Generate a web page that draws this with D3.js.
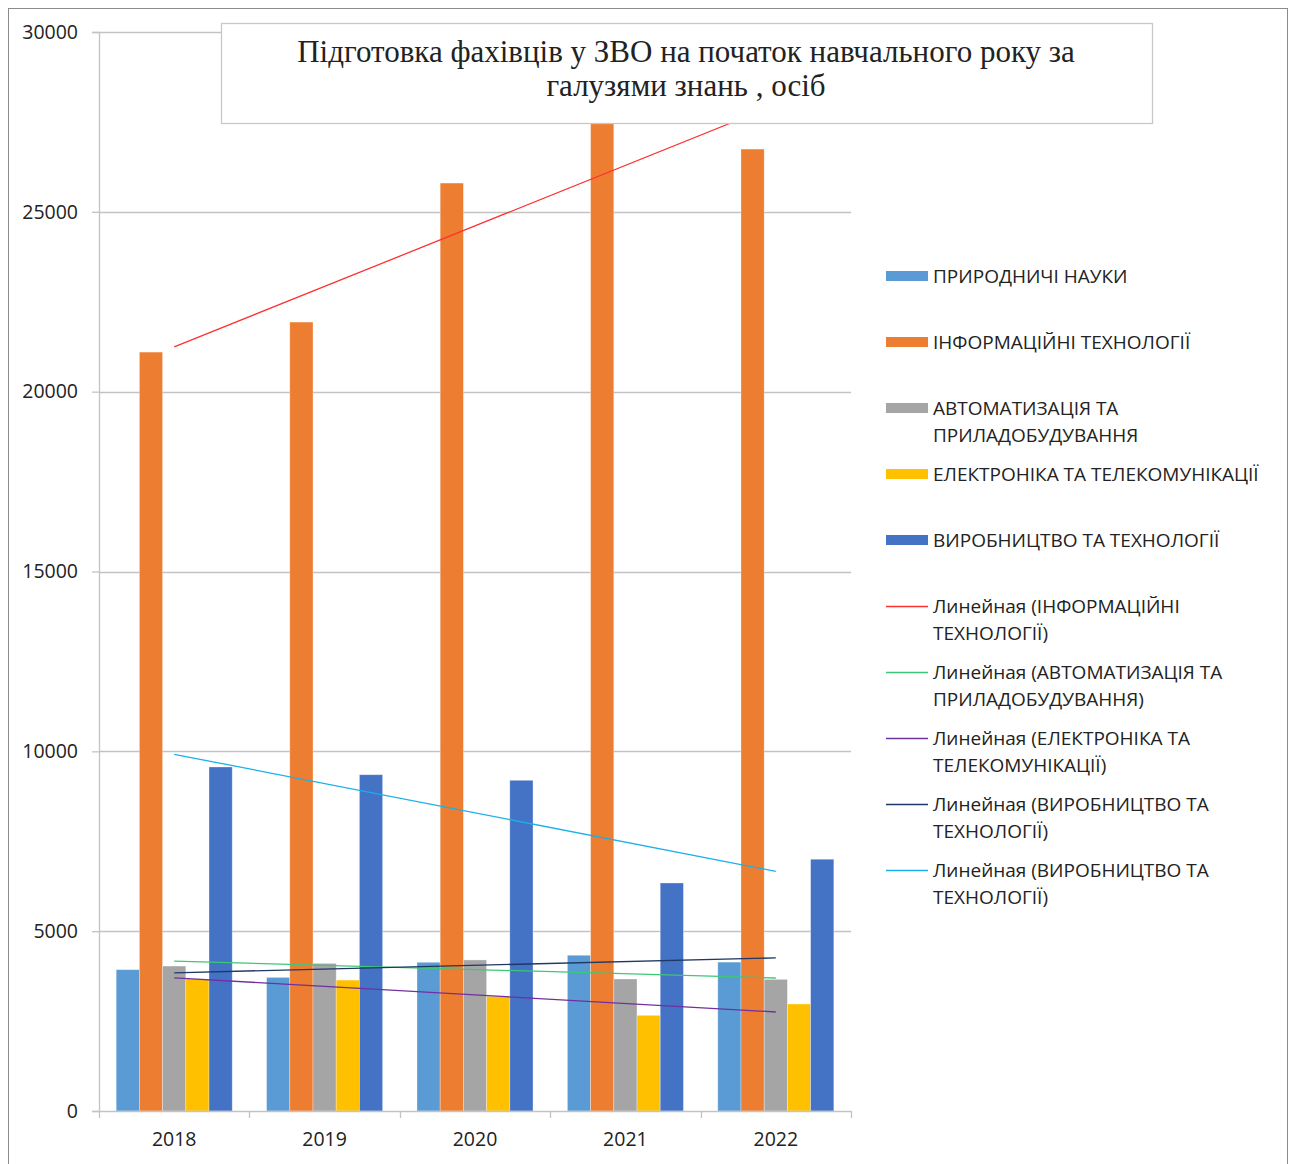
<!DOCTYPE html>
<html>
<head>
<meta charset="utf-8">
<script src="https://cdn.jsdelivr.net/npm/d3@7"></script>
<style>
  body { margin: 0; background: #fff; }
  svg text { font-family: "Open Sans", "Noto Sans", sans-serif; fill: #222; }
</style>
</head>
<body>
<svg id="chart"></svg>
<script>
const years = ['2018', '2019', '2020', '2021', '2022'];
const seriesNames = [
  'ПРИРОДНИЧІ НАУКИ',
  'ІНФОРМАЦІЙНІ ТЕХНОЛОГІЇ',
  'АВТОМАТИЗАЦІЯ ТА ПРИЛАДОБУДУВАННЯ',
  'ЕЛЕКТРОНІКА ТА ТЕЛЕКОМУНІКАЦІЇ',
  'ВИРОБНИЦТВО ТА ТЕХНОЛОГІЇ'
];
const naturalSci = [3930, 3715, 4135, 4330, 4140];
const itTech = [21100, 21935, 25800, 27465, 26745];
const automation = [4030, 4105, 4200, 3670, 3660];
const electronics = [3670, 3640, 3190, 2660, 2975];
const production = [9565, 9350, 9195, 6340, 7000];
const yTicks = [0, 5000, 10000, 15000, 20000, 25000, 30000];

// trendlines: which series each fit is taken from, and its legend label
const trendSource = [1, 2, 3, 0, 4];
const trendNames = [
  'Линейная (ІНФОРМАЦІЙНІ ТЕХНОЛОГІЇ)',
  'Линейная (АВТОМАТИЗАЦІЯ ТА ПРИЛАДОБУДУВАННЯ)',
  'Линейная (ЕЛЕКТРОНІКА ТА ТЕЛЕКОМУНІКАЦІЇ)',
  'Линейная (ВИРОБНИЦТВО ТА ТЕХНОЛОГІЇ)',
  'Линейная (ВИРОБНИЦТВО ТА ТЕХНОЛОГІЇ)'
];

const series = [naturalSci, itTech, automation, electronics, production];
const barColors = ['#5b9bd5', '#ed7d31', '#a5a5a5', '#ffc000', '#4472c4'];
const trendColors = ['#ff3030', '#3cc878', '#7030a0', '#1f3864', '#1ab0ea'];

const width = 1292;
const height = 1164;
const margin = {left: 99, right: 441, top: 32, bottom: 53};

const svg = d3.select('#chart')
  .attr('width', width)
  .attr('height', height);

// outer chart frame
svg.append('rect')
  .attr('x', 8.5).attr('y', 8.5)
  .attr('width', 1279).attr('height', 1170)
  .attr('fill', 'none')
  .attr('stroke', '#8c8c8c');

const x0 = d3.scaleBand()
  .domain(years)
  .range([margin.left, width - margin.right]);

const x1 = d3.scaleBand()
  .domain(d3.range(series.length))
  .range([0, x0.bandwidth()])
  .paddingOuter(0.74);

const y = d3.scaleLinear()
  .domain([0, 30000])
  .range([height - margin.bottom, margin.top]);

// gridlines
svg.append('g')
  .selectAll('line')
  .data(yTicks.slice(1))
  .join('line')
  .attr('x1', margin.left)
  .attr('x2', width - margin.right)
  .attr('y1', (d) => Math.round(y(d)) + 0.5)
  .attr('y2', (d) => Math.round(y(d)) + 0.5)
  .attr('stroke', '#c3c3c3')
  .attr('stroke-width', 1.3);

// Left axis
const yAxis = svg.append('g')
  .attr('transform', `translate(${margin.left}, 0)`)
  .call(d3.axisLeft(y).tickValues(yTicks).tickSize(7).tickPadding(14).tickFormat(d3.format('d')));
yAxis.select('.domain').attr('stroke', '#c3c3c3').attr('stroke-width', 1.3);
yAxis.selectAll('.tick line').attr('stroke', '#c3c3c3').attr('stroke-width', 1.3);
yAxis.selectAll('.tick text')
  .style('font-size', '19.5px')
  .style('font-family', '"Open Sans", sans-serif')
  .attr('fill', '#222');

// bars
const groups = svg.append('g')
  .selectAll('g')
  .data(years)
  .join('g')
  .attr('transform', (d) => `translate(${x0(d)}, 0)`);

groups.selectAll('rect')
  .data((d, i) => series.map((s, k) => ({k, v: s[i]})))
  .join('rect')
  .attr('x', (d) => x1(d.k))
  .attr('width', x1.bandwidth())
  .attr('y', (d) => y(d.v))
  .attr('height', (d) => y(0) - y(d.v))
  .attr('fill', (d) => barColors[d.k])
  .attr('stroke', '#fff')
  .attr('stroke-opacity', 0.4)
  .attr('stroke-width', 0.8);

// Bottom axis
const xAxis = svg.append('g')
  .attr('transform', `translate(0, ${y(0)})`)
  .call(d3.axisBottom(x0).tickSize(0).tickPadding(21));
xAxis.select('.domain').attr('stroke', '#c3c3c3').attr('stroke-width', 1.3);
xAxis.selectAll('.tick text')
  .style('font-size', '19.5px')
  .style('font-family', '"Open Sans", sans-serif')
  .attr('fill', '#222');
svg.append('g')
  .selectAll('line')
  .data(years.map((d) => x0(d)).concat([x0(years[years.length - 1]) + x0.bandwidth()]))
  .join('line')
  .attr('x1', (d) => Math.round(d) + 0.5)
  .attr('x2', (d) => Math.round(d) + 0.5)
  .attr('y1', y(0))
  .attr('y2', y(0) + 7)
  .attr('stroke', '#c3c3c3')
  .attr('stroke-width', 1.3);

// linear trendlines (least squares over category index)
const xs = d3.range(1, years.length + 1);
function linFit(vals) {
  const mx = d3.mean(xs);
  const my = d3.mean(vals);
  const slope = d3.sum(xs, (xv, i) => (xv - mx) * (vals[i] - my)) / d3.sum(xs, (xv) => (xv - mx) ** 2);
  return (xv) => my + slope * (xv - mx);
}
const cx = (i) => x0(years[i]) + x0.bandwidth() / 2;

trendSource.forEach((s, t) => {
  const f = linFit(series[s]);
  const last = years.length - 1;
  svg.append('line')
    .attr('x1', cx(0)).attr('y1', y(f(1)))
    .attr('x2', cx(last)).attr('y2', y(f(years.length)))
    .attr('stroke', trendColors[t])
    .attr('stroke-width', 1.3);
});

// title box
svg.append('rect')
  .attr('x', 221.5).attr('y', 23.5)
  .attr('width', 931).attr('height', 100)
  .attr('fill', '#fff')
  .attr('stroke', '#c8c8c8')
  .attr('stroke-width', 1.3);

svg.append('text')
  .attr('x', 686)
  .attr('text-anchor', 'middle')
  .style('font-family', '"Liberation Serif", "Times New Roman", serif')
  .style('font-size', '31px')
  .selectAll('tspan')
  .data(['Підготовка фахівців у ЗВО на початок навчального року за', 'галузями знань , осіб'])
  .join('tspan')
  .attr('x', 686)
  .attr('y', (d, i) => 62 + i * 34)
  .text((d) => d);

// legend
const legendX = 886;
const legendY = 276;
const rowStep = 66;
const lineH = 27;

function wrapLabel(label) {
  // two-line entries as in the picture
  const breaks = {
    'АВТОМАТИЗАЦІЯ ТА ПРИЛАДОБУДУВАННЯ': ['АВТОМАТИЗАЦІЯ ТА', 'ПРИЛАДОБУДУВАННЯ'],
    'Линейная (ІНФОРМАЦІЙНІ ТЕХНОЛОГІЇ)': ['Линейная (ІНФОРМАЦІЙНІ', 'ТЕХНОЛОГІЇ)'],
    'Линейная (АВТОМАТИЗАЦІЯ ТА ПРИЛАДОБУДУВАННЯ)': ['Линейная (АВТОМАТИЗАЦІЯ ТА', 'ПРИЛАДОБУДУВАННЯ)'],
    'Линейная (ЕЛЕКТРОНІКА ТА ТЕЛЕКОМУНІКАЦІЇ)': ['Линейная (ЕЛЕКТРОНІКА ТА', 'ТЕЛЕКОМУНІКАЦІЇ)'],
    'Линейная (ВИРОБНИЦТВО ТА ТЕХНОЛОГІЇ)': ['Линейная (ВИРОБНИЦТВО ТА', 'ТЕХНОЛОГІЇ)']
  };
  return breaks[label] || [label];
}

const entries = seriesNames.map((n, i) => ({name: n, color: barColors[i], kind: 'bar'}))
  .concat(trendNames.map((n, i) => ({name: n, color: trendColors[i], kind: 'line'})));

const legend = svg.append('g')
  .selectAll('g')
  .data(entries)
  .join('g')
  .attr('transform', (d, i) => `translate(${legendX}, ${legendY + i * rowStep})`);

legend.filter((d) => d.kind === 'bar')
  .append('rect')
  .attr('x', 0).attr('y', -5)
  .attr('width', 42).attr('height', 10)
  .attr('fill', (d) => d.color);

legend.filter((d) => d.kind === 'line')
  .append('line')
  .attr('x1', 0).attr('x2', 42)
  .attr('y1', 0.5).attr('y2', 0.5)
  .attr('stroke', (d) => d.color)
  .attr('stroke-width', 1.3);

legend.append('text')
  .style('font-size', '19px')
  .selectAll('tspan')
  .data((d) => wrapLabel(d.name))
  .join('tspan')
  .attr('x', 47)
  .attr('y', (d, i) => 7 + i * lineH)
  .text((d) => d);
</script>
</body>
</html>
